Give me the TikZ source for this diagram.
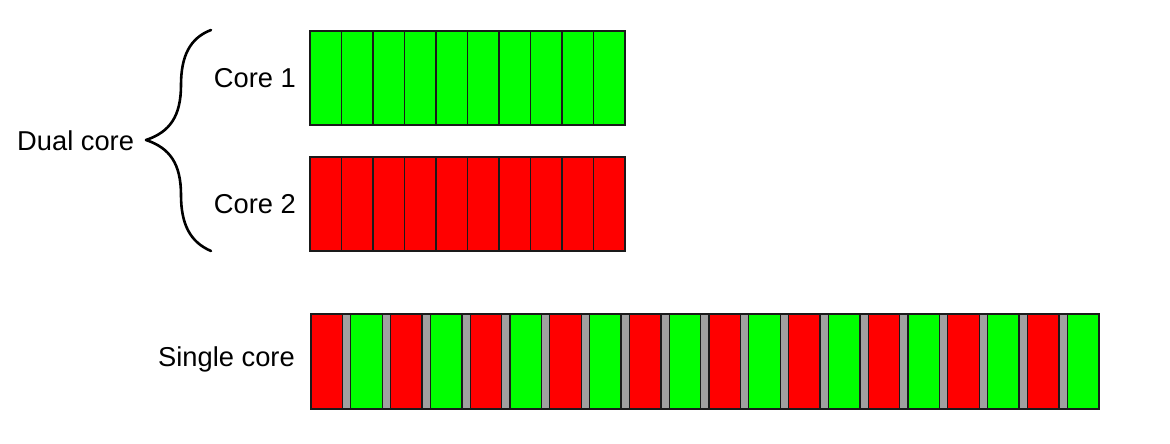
\documentclass[tikz,border=0pt]{standalone}
\usepackage{fontspec}
\setmainfont{Liberation Sans}
\definecolor{cg}{HTML}{00FF00}
\definecolor{cr}{HTML}{FF0000}
\definecolor{cgr}{HTML}{A0A0A0}
\definecolor{edge}{HTML}{1A1A1A}
\begin{document}
\begin{tikzpicture}[x=1pt,y=-1pt,
  cell/.style={draw=edge,line width=1.3pt},
  lbl/.style={font=\fontsize{27.3}{30}\selectfont,inner sep=0pt},
  bracepath/.style={line width=2.6pt,line cap=round,line join=round}]
\useasboundingbox (0,0) rectangle (1170,444);
% Core 1
\foreach \i in {0,...,9} {
  \fill[cg] (310+31.5*\i,31) rectangle (341.5+31.5*\i,125);
}
\foreach \i in {0,...,9} {
  \draw[cell] (310+31.5*\i,31) rectangle (341.5+31.5*\i,125);
}
% Core 2
\foreach \i in {0,...,9} {
  \fill[cr] (310+31.5*\i,157) rectangle (341.5+31.5*\i,251);
}
\foreach \i in {0,...,9} {
  \draw[cell] (310+31.5*\i,157) rectangle (341.5+31.5*\i,251);
}
% Single core
\draw[cell,fill=cgr] (311,314) rectangle (1099,409);
\foreach \i in {0,...,19} {
  \pgfmathsetmacro{\xa}{311+39.8*\i}
  \pgfmathsetmacro{\xb}{\xa+31.5}
  \pgfmathtruncatemacro{\odd}{mod(\i,2)}
  \ifnum\odd=0
    \draw[cell,fill=cr] (\xa,314) rectangle (\xb,409);
  \else
    \draw[cell,fill=cg] (\xa,314) rectangle (\xb,409);
  \fi
}
% labels
\node[lbl,anchor=east] (c1) at (296,78) {Core 1};
\node[lbl,anchor=east] (c2) at (296,204) {Core 2};
\node[lbl,anchor=east] (sc) at (295,359) {Single core};
\node[lbl,anchor=west] (dc) at (17,141) {Dual core};
% brace
\coordinate (btop) at (211,30);
\coordinate (btip) at (146,140);
\coordinate (bbot) at (211,251);
\draw[bracepath] (btop) .. controls (190,38) and (181,56) .. (181,85)
  .. controls (181,116) and (170,132) .. (btip)
  .. controls (170,148) and (181,164) .. (181,195)
  .. controls (181,224) and (190,242) .. (bbot);
\end{tikzpicture}
\end{document}
